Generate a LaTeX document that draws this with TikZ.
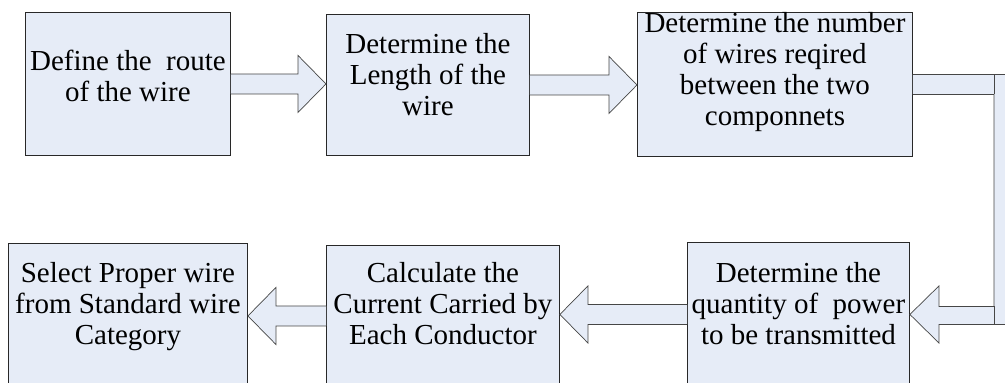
\documentclass[tikz,border=0pt]{standalone}
\usepackage{fontspec}
\setmainfont{Liberation Serif}
\usetikzlibrary{calc}
\definecolor{boxfill}{RGB}{230,236,247}
\definecolor{boxline}{RGB}{40,40,40}
\definecolor{arrline}{RGB}{70,70,70}
\tikzset{
  box/.style={draw=boxline, line width=0.9pt, fill=boxfill, rectangle, inner sep=0pt, anchor=north west},
  txt/.style={align=center, inner sep=0pt, anchor=north, font=\fontsize{29}{31}\selectfont},
  blockarrow/.style={draw=arrline, line width=0.7pt, fill=boxfill, line join=miter},
}
\newcommand{\fl}{\rule{0pt}{20pt}}
\begin{document}
\begin{tikzpicture}[x=1pt,y=-1pt]
\useasboundingbox (0,0) rectangle (1005,383);
\clip (0,0) rectangle (1005,383);

% top row boxes
\node[box, minimum width=205, minimum height=143] (b1) at (25,12) {};
\node[box, minimum width=203, minimum height=141] (b2) at (326,14) {};
\node[box, minimum width=275, minimum height=144] (b3) at (637,12) {};
% bottom row boxes
\node[box, minimum width=222, minimum height=144] (b4) at (687,242) {};
\node[box, minimum width=233, minimum height=141] (b5) at (326,245) {};
\node[box, minimum width=239, minimum height=143] (b6) at (8,243) {};

% texts
\node[txt] (t1) at ($(b1.north)+(0,38)$) {\fl Define the\ \ route\\of the wire};
\node[txt] (t2) at ($(b2.north)+(0,19)$) {\fl Determine the\\Length of the\\wire};
\node[txt] (t3) at ($(b3.north)+(0,0)$) {\fl Determine the number\\of wires reqired\\between the two\\componnets};
\node[txt] (t4) at ($(b4.north)+(0,20)$) {\fl Determine the\\quantity of\ \ power\\to be transmitted};
\node[txt] (t5) at ($(b5.north)+(0,17)$) {\fl Calculate the\\Current Carried by\\Each Conductor};
\node[txt] (t6) at ($(b6.north)+(0,19)$) {\fl Select Proper wire\\from Standard wire\\Category};

% right-pointing block arrows
\foreach \a/\b in {b1/b2, b2/b3}{
  \draw[blockarrow]
    ($(\a.east)+(0,-10)$) -- ($(\b.west |- \a.east)+(-28,-10)$) -- ($(\b.west |- \a.east)+(-28,-28.5)$)
    -- ($(\b.west |- \a.east)$) -- ($(\b.west |- \a.east)+(-28,28.5)$) -- ($(\b.west |- \a.east)+(-28,10)$)
    -- ($(\a.east)+(0,10)$);
}
% left-pointing block arrows
\foreach \a/\b in {b4/b5, b5/b6}{
  \draw[blockarrow]
    ($(\a.west)+(0,-10)$) -- ($(\b.east |- \a.west)+(28,-10)$) -- ($(\b.east |- \a.west)+(28,-28.5)$)
    -- ($(\b.east |- \a.west)$) -- ($(\b.east |- \a.west)+(28,28.5)$) -- ($(\b.east |- \a.west)+(28,10)$)
    -- ($(\a.west)+(0,10)$);
}

% bent connector b3 -> b4
\coordinate (ci) at (994,0);
\coordinate (co) at (1015,0);
\draw[blockarrow]
  ($(b3.east)+(0,-10)$) -- ($(co |- b3.east)+(0,-10)$) -- ($(co |- b4.east)+(0,10)$)
  -- ($(b4.east)+(29,10)$) -- ($(b4.east)+(29,28.5)$) -- (b4.east)
  -- ($(b4.east)+(29,-28.5)$) -- ($(b4.east)+(29,-8)$) -- ($(ci |- b4.east)+(0,-8)$)
  -- ($(ci |- b3.east)+(0,10)$) -- ($(b3.east)+(0,10)$);
\draw[arrline, line width=0.7pt] ($(ci |- b3.east)+(0,-10)$) -- ($(ci |- b3.east)+(0,10)$);
\draw[arrline, line width=0.7pt] ($(ci |- b4.east)+(0,-8)$) -- ($(ci |- b4.east)+(0,10)$);
\end{tikzpicture}
\end{document}
